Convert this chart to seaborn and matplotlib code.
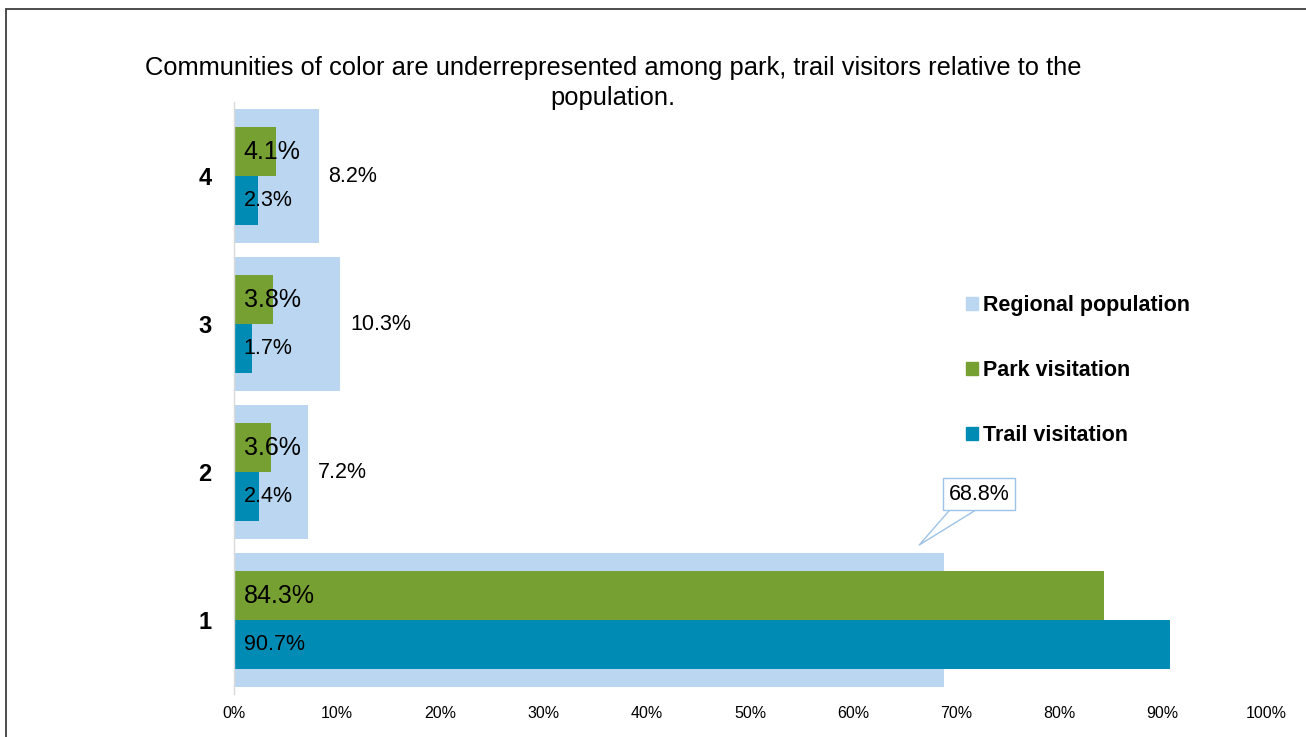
import numpy as np
import pandas as pd
import matplotlib
matplotlib.use("Agg")
import matplotlib.pyplot as plt
from matplotlib.patches import Patch, Rectangle
import seaborn as sns

# chart data (percent)
categories = ["1", "2", "3", "4"]
regional = [68.8, 7.2, 10.3, 8.2]
park = [84.3, 3.6, 3.8, 4.1]
trail = [90.7, 2.4, 1.7, 2.3]
series_names = ["Regional population", "Park visitation", "Trail visitation"]
x_ticks = list(range(0, 101, 10))

title = ("Communities of color are underrepresented among park, trail visitors relative to the\n"
         "population.")

c_regional = "#BAD6F0"
c_park = "#77A033"
c_trail = "#008BB5"

sns.set_style("white")
plt.rcParams["font.family"] = ["Liberation Sans", "DejaVu Sans"]
plt.rcParams["text.color"] = "black"
plt.rcParams["xtick.color"] = "black"
plt.rcParams["ytick.color"] = "black"

W, H = 1306, 737
fig = plt.figure(figsize=(W / 100, H / 100), dpi=100)
ax = fig.add_axes([234 / W, 1 - 694 / H, (1266 - 234) / W, (694 - 102) / H])

order = ["4", "3", "2", "1"]

# wide background bars for regional population
sns.barplot(x=regional, y=categories, order=order, orient="h", color=c_regional,
            width=0.91, saturation=1, errorbar=None, ax=ax)

# park / trail bars dodged inside each category
df = pd.DataFrame({
    "cat": categories * 2,
    "value": park + trail,
    "series": [series_names[1]] * 4 + [series_names[2]] * 4,
})
sns.barplot(data=df, x="value", y="cat", hue="series", order=order,
            hue_order=series_names[1:], palette=[c_park, c_trail], width=0.66,
            saturation=1, errorbar=None, legend=False, ax=ax)

for bar in ax.patches:
    bar.set_linewidth(0)

ax.set_xlim(0, 100)
ax.set_ylim(3.5, -0.5)
ax.set_xticks(x_ticks)
ax.set_xticklabels([f"{t}%" for t in x_ticks], fontsize=11.5)
ax.tick_params(axis="x", length=0, pad=9)
ax.tick_params(axis="y", length=0, pad=16)
for lab in ax.get_yticklabels():
    lab.set_fontsize(17)
    lab.set_fontweight("bold")
ax.set_xlabel("")
ax.set_ylabel("")
for side in ["top", "right", "bottom"]:
    ax.spines[side].set_visible(False)
ax.spines["left"].set_color("#D9D9D9")
ax.spines["left"].set_linewidth(1)
ax.spines["left"].set_zorder(5)

# labels: regional outside the bar (except the callout one)
reg_bars = ax.containers[0]
reg_labels = []
for b in reg_bars:
    w = b.get_width()
    reg_labels.append("" if np.isclose(w, regional[0]) else f"{w:.1f}%")
ax.bar_label(reg_bars, labels=reg_labels, padding=7, fontsize=15.5)

# park and trail labels inside bars from the left
for cont, fs in zip(ax.containers[1:3], [18, 15.5]):
    for b in cont:
        yc = b.get_y() + b.get_height() / 2
        ax.annotate(f"{b.get_width():.1f}%", xy=(0, yc), xytext=(7, 0),
                    textcoords="offset points", ha="left", va="center",
                    fontsize=fs, color="black", zorder=6)

# callout for the large regional value
pos1 = order.index("1")
ax.annotate(f"{regional[0]:.1f}%", xy=(regional[0] - 2.4, pos1 - 0.507),
            xytext=(regional[0] + 3.4, pos1 - 0.85), textcoords="data",
            ha="center", va="center", fontsize=15.5, zorder=7,
            bbox=dict(boxstyle="square,pad=0.25", fc="white", ec="#9DC3E6", lw=1),
            arrowprops=dict(arrowstyle="wedge,tail_width=1.1,shrink_factor=0.5",
                            fc="white", ec="#9DC3E6", lw=1, patchA=None, shrinkA=0, shrinkB=0))

# legend
handles = [Patch(color=c, label=n) for c, n in zip([c_regional, c_park, c_trail], series_names)]
ax.legend(handles=handles, loc="upper left", bbox_to_anchor=(966 / W, 1 - 295 / H),
          bbox_transform=fig.transFigure, frameon=False, borderpad=0, borderaxespad=0,
          handlelength=0.55, handleheight=0.55, handletextpad=0.25, labelspacing=2.05,
          prop={"size": 15.5, "weight": "bold"})

fig.text(613 / W, 1 - 83 / H, title, ha="center", va="center", fontsize=18.4,
         multialignment="center", linespacing=1.32)

# outer frame (clipped at the right and bottom like the source)
fig.add_artist(Rectangle((6 / W, -0.1), 1.2, 1 - 9 / H + 0.1, transform=fig.transFigure,
                         fill=False, ec="#3F3F3F", lw=1.3, clip_on=False))

fig.savefig("out.png", dpi=100)
